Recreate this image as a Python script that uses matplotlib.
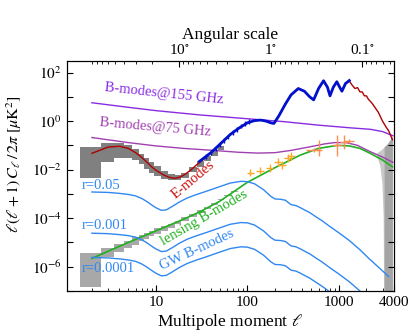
import numpy as np
import matplotlib
matplotlib.use("Agg")
import matplotlib.pyplot as plt
from matplotlib.ticker import FixedLocator, NullFormatter, FuncFormatter

plt.rcParams['font.family'] = ['Liberation Serif', 'DejaVu Serif']
plt.rcParams['mathtext.fontset'] = 'stix'

# E-mode theory (red)
ell_E = [2, 3, 4, 5, 6, 7, 8, 9, 10, 12, 14, 16, 18, 20, 24, 28, 32, 40, 50, 65, 80,
         100, 120, 140, 160, 180, 195, 220, 260, 300, 360, 420, 480, 530, 600, 680,
         750, 800, 870, 950, 1020, 1080, 1180, 1300, 1400, 1500, 1600, 1700, 1800,
         1900, 2000, 2100, 2300, 2500, 2700, 3000, 3300, 3500, 3850]
D_E = [0.047, 0.085, 0.092, 0.075, 0.05, 0.032, 0.02, 0.013, 0.0095, 0.0062, 0.0048,
       0.0044, 0.0048, 0.0058, 0.0095, 0.016, 0.024, 0.05, 0.11, 0.28, 0.5,
       0.85, 1.05, 1.1, 1.0, 0.85, 0.85, 1.6, 5, 12, 22, 17, 10, 7.5, 22, 46,
       25, 11, 25, 42, 25, 17, 35, 45, 30, 22, 24, 16, 16, 11, 11, 8, 5.5, 3.5,
       2.3, 1.0, 0.55, 0.4, 0.17]

# measured E-modes (blue)
ell_Ed = [30, 40, 50, 65, 80, 100, 120, 140, 160, 180, 195, 220, 260, 300, 360, 420,
          480, 530, 600, 680, 750, 800, 870, 950, 1020, 1080, 1180, 1300]
D_Ed = [0.022, 0.05, 0.11, 0.28, 0.5, 0.85, 1.05, 1.1, 1.0, 0.85, 0.8, 1.6, 5, 12,
        22, 17, 10, 7.5, 22, 46, 25, 11, 25, 42, 25, 17, 35, 47]
ell_Eerr = [35, 40, 45, 50, 56, 62, 70, 78, 86, 95, 105]
D_Eerr = [0.035, 0.05, 0.075, 0.11, 0.16, 0.22, 0.33, 0.46, 0.62, 0.78, 0.95]

# foreground-limited B-mode sensitivity lines
ell_fg = [2, 5, 10, 30, 100, 250, 600, 1400, 2200, 3000, 3900]
D_155 = [5.7, 3.7, 2.7, 1.8, 1.25, 0.95, 0.68, 0.52, 0.46, 0.37, 0.25]
ell_75 = [2, 5, 10, 20, 40, 80, 130, 200, 300, 490, 700, 900, 1200, 1600, 2200, 3000, 3900]
D_75 = [0.21, 0.13, 0.095, 0.075, 0.063, 0.052, 0.048, 0.05, 0.062, 0.088, 0.115,
        0.13, 0.13, 0.1, 0.055, 0.033, 0.02]

# lensing B-modes (green)
ell_L = [2, 5, 10, 20, 30, 50, 100, 200, 380, 600, 960, 1300, 1700, 2200, 3000, 3850]
D_L = [2.2e-6, 1.0e-5, 3.0e-5, 9e-5, 1.8e-4, 5e-4, 3.0e-3, 0.012, 0.04, 0.075, 0.1,
       0.095, 0.075, 0.047, 0.025, 0.013]

# primordial GW B-modes, r = 0.05 template
ell_GW = [2, 3, 4, 5, 6, 7, 8, 9, 10, 11.5, 13, 15, 18, 22, 28, 36, 50, 65, 85, 100,
          120, 150, 180, 200, 230, 260, 300, 340, 380, 430, 480, 550, 650, 800, 1000,
          1300, 1700, 2100, 2600, 3100, 3500]
D_GW = [1.2e-3, 1.15e-3, 1.05e-3, 9.5e-4, 8.3e-4, 6.5e-4, 4.8e-4, 3.5e-4, 2.7e-4,
        2.1e-4, 2.2e-4, 3.0e-4, 4.6e-4, 6.8e-4, 9.5e-4, 1.3e-3, 2.0e-3, 2.8e-3, 3.3e-3,
        3.2e-3, 2.6e-3, 1.5e-3, 8e-4, 6.2e-4, 6.0e-4, 5.5e-4, 3.6e-4, 3.3e-4, 2.7e-4,
        2.1e-4, 1.7e-4, 1.2e-4, 8e-5, 4.5e-5, 2.5e-5, 1.2e-5, 5e-6, 2.3e-6, 1.1e-6,
        6e-7, 4e-7]
r_values = [0.05, 0.001, 0.0001]
r_labels = ["r=0.05", "r=0.001", "r=0.0001"]
r_label_y = [2.2e-3, 4.8e-5, 8.5e-7]

# measured lensing B-modes (orange crosses)
ell_B1 = [108, 138, 175, 214, 240, 276, 300]
D_B1 = [0.0076, 0.0092, 0.0115, 0.02, 0.015, 0.029, 0.037]
ell_B2 = [530, 600, 960, 1130, 1280]
D_B2 = [0.067, 0.064, 0.1, 0.14, 0.15]
B2_xerr = [[90, 40, 120, 100, 150], [110, 50, 130, 120, 200]]
B2_yerr = [[0.012, 0.029, 0.065, 0.07, 0.03], [0.012, 0.1, 0.17, 0.13, 0.04]]

# sample-variance bands (bin edges, lower, upper)
E_edges = [1.5, 2.5, 3.5, 4.5, 5.5, 6.5, 7.5, 8.5, 9.5, 11.5, 13.5, 16, 19, 23, 28, 34, 40, 48, 56]
E_lo = [0.0045, 0.02, 0.03, 0.03, 0.025, 0.017, 0.011, 0.0075, 0.0055, 0.0042, 0.0036,
        0.0036, 0.0045, 0.008, 0.013, 0.022, 0.038, 0.065]
E_hi = [0.089, 0.13, 0.13, 0.10, 0.07, 0.045, 0.03, 0.02, 0.014, 0.009, 0.0065, 0.006,
        0.0075, 0.013, 0.022, 0.036, 0.058, 0.09]
L_edges = [1.5, 2.5, 3.5, 4.5, 5.5, 6.5, 7.5, 8.5, 9.5, 11.5, 13.5, 16, 19, 23, 28, 34, 40, 48, 56, 66, 80]
L_lo = [1.5e-7, 2.5e-6, 4e-6, 6e-6, 8e-6, 1.1e-5, 1.4e-5, 1.8e-5, 2.2e-5, 3e-5, 4e-5,
        5.5e-5, 7.5e-5, 1.1e-4, 1.6e-4, 2.4e-4, 3.6e-4, 5.5e-4, 8e-4, 1.2e-3]
L_hi = [3.7e-6, 6e-6, 9e-6, 1.2e-5, 1.6e-5, 2e-5, 2.5e-5, 3e-5, 3.8e-5, 4.8e-5, 6e-5,
        8e-5, 1.1e-4, 1.5e-4, 2.1e-4, 3e-4, 4.3e-4, 6.2e-4, 9e-4, 1.3e-3]
ell_wedge = [2600, 2800, 2950, 3050, 3100]
wedge_lo = [0.035, 0.015, 0.003, 1e-4, 1e-8]
wedge_up = [0.05, 0.06, 0.07, 0.08, 0.085]
ell_vband = [3100, 3400, 3850]
vband_lo = [1e-8, 1e-8, 1e-8]
vband_up = [0.085, 0.12, 0.24]

fig = plt.figure(figsize=(4.16, 3.36), dpi=100)
ax = fig.add_axes([0.1603, 0.134, 0.7867, 0.6845])
ax.set_xscale('log')
ax.set_yscale('log')

ax.fill_between(E_edges, E_lo + [E_lo[-1]], E_hi + [E_hi[-1]], step='post',
                color='#808080', lw=0)
ax.fill_between(L_edges, L_lo + [L_lo[-1]], L_hi + [L_hi[-1]], step='post',
                color='#A8A8A8', lw=0)
ax.fill_between(ell_wedge, wedge_lo, wedge_up, color='#C8C8C8', lw=0)
ax.fill_between(ell_vband, vband_lo, vband_up, color='#A4A4A4', lw=0)

ax.plot(ell_fg, D_155, color='#8A2BE2', lw=1.0)
ax.plot(ell_75, D_75, color='#A040B0', lw=1.0)
ax.plot(ell_E, D_E, color='#B00000', lw=1.0)
ax.plot(ell_Ed, D_Ed, color='#0010CC', lw=2.0)
ax.errorbar(ell_Eerr, D_Eerr, yerr=[np.array(D_Eerr) * 0.2, np.array(D_Eerr) * 0.25],
            fmt='none', ecolor='#0010CC', elinewidth=1.0)
ax.plot(ell_L, D_L, color='#20B020', lw=1.2)
for r in r_values:
    ax.plot(ell_GW, np.array(D_GW) * r / 0.05, color='#3088F0', lw=1.0)

ax.errorbar(ell_B1, D_B1, xerr=[np.array(ell_B1) * 0.09, np.array(ell_B1) * 0.1],
            yerr=[np.array(D_B1) * 0.3, np.array(D_B1) * 0.45],
            fmt='none', ecolor='#FFA726', elinewidth=1.0)
ax.errorbar(ell_B2, D_B2, xerr=B2_xerr, yerr=B2_yerr,
            fmt='none', ecolor='#FF8C50', elinewidth=1.0)

ax.text(12.3, 13, "B-modes@155 GHz", color='#8A2BE2', fontsize=10.5, rotation=-6,
        ha='center', va='center')
ax.text(9.8, 0.55, "B-modes@75 GHz", color='#A040B0', fontsize=10.5, rotation=-5,
        ha='center', va='center')
ax.text(25.7, 3.8e-3, "E-modes", color='#CC1010', fontsize=10.5, rotation=40,
        ha='center', va='center')
ax.text(34, 1.0e-4, "lensing B-modes", color='#20B020', fontsize=10.5, rotation=30,
        ha='center', va='center')
ax.text(28.4, 5e-6, "GW B-modes", color='#3088F0', fontsize=10.5, rotation=25,
        ha='center', va='center')
for lab, yv in zip(r_labels, r_label_y):
    ax.text(1.55, yv, lab, color='#3088F0', fontsize=10.5, ha='left', va='center')

ax.set_xlim(1.06, 4000)
ax.set_ylim(1e-7, 3e2)

ax.xaxis.set_major_locator(FixedLocator([10, 100, 1000, 4000]))
ax.xaxis.set_major_formatter(FuncFormatter(lambda v, p: "%d" % round(v)))
minors = [m * 10.0 ** k for k in range(0, 4) for m in range(2, 10)]
ax.xaxis.set_minor_locator(FixedLocator(minors))
ax.xaxis.set_minor_formatter(NullFormatter())
ax.yaxis.set_major_locator(FixedLocator([10.0 ** k for k in range(-7, 3)]))
ax.yaxis.set_major_formatter(FuncFormatter(
    lambda v, p: r"$10^{%d}$" % round(np.log10(v)) if round(np.log10(v)) % 2 == 0 else ""))
ax.yaxis.set_minor_locator(FixedLocator([]))
ax.tick_params(which='both', direction='in', top=False, right=True, labelsize=11)
ax.tick_params(which='major', length=4, width=0.8)
ax.tick_params(which='minor', length=2.5, width=0.6)

ax.set_xlabel(r"Multipole moment $\ell$", fontsize=12.5, labelpad=2)
ax.set_ylabel(r"$\ell(\ell+1)\,C_\ell\,/\,2\pi\;[\mu\mathrm{K}^2]$", fontsize=11.5)
ax.yaxis.set_label_coords(-0.13, 0.55)

ax2 = ax.twiny()
ax2.set_xscale('log')
ax2.set_xlim(ax.get_xlim())
ax2.xaxis.set_major_locator(FixedLocator([18, 180, 1800]))
ax2.set_xticklabels([r"10$^{\circ}$", r"1$^{\circ}$", r"0.1$^{\circ}$"])
theta_minor = [m * 10.0 ** k for k in range(-2, 2) for m in range(2, 10)]
ax2.xaxis.set_minor_locator(FixedLocator([180.0 / t for t in theta_minor]))
ax2.xaxis.set_minor_formatter(NullFormatter())
ax2.tick_params(which='both', direction='in', labelsize=11, pad=3)
ax2.tick_params(which='major', length=4, width=0.8)
ax2.tick_params(which='minor', length=2.5, width=0.6)
ax2.set_xlabel("Angular scale", fontsize=12.5, labelpad=3)

fig.savefig("out.png", dpi=100)
